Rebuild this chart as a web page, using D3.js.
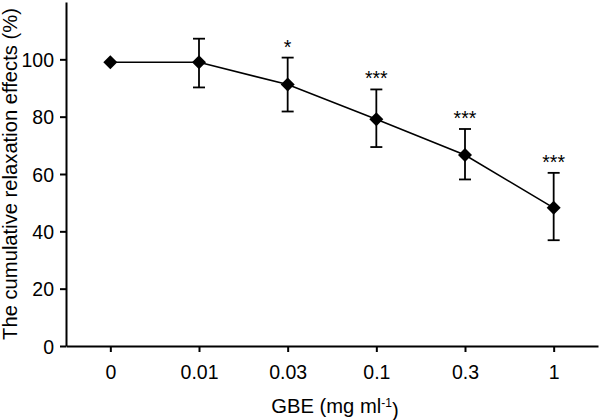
<!DOCTYPE html>
<html><head><meta charset="utf-8">
<script src="https://cdn.jsdelivr.net/npm/d3@7/dist/d3.min.js"></script>
<style>body{margin:0;background:#fff}svg{display:block}text{font-family:"Liberation Sans",Arial,sans-serif}</style>
</head><body><svg id="c" width="600" height="420"></svg>
<script>
const categories = ["0","0.01","0.03","0.1","0.3","1"];
const means = [99, 99, 91.2, 79.1, 66.6, 48.2];
const upper = [null, 107.2, 100.6, 89.5, 75.7, 60.4];
const lower = [null, 90.2, 81.8, 69.4, 58.1, 36.9];
const signif = ["", "", "*", "***", "***", "***"];
const yTicks = [0, 20, 40, 60, 80, 100];

(function () {
const FS = 19.5, TS = 20.2;
const FF = '"Liberation Sans",Arial,sans-serif';
const svg = d3.select("#c");
const mL = 66, mR = 598, mT = 2, mB = 346;
const x = d3.scalePoint().domain(categories).range([mL, mR]).padding(0.5);
const y = d3.scaleLinear().domain([0, 120]).range([mB, mT]);

// axes
const yAxis = svg.append("g").attr("transform", `translate(${mL},0)`)
  .call(d3.axisLeft(y).tickValues(yTicks).tickSize(6).tickPadding(6).tickSizeOuter(0));
const xAxis = svg.append("g").attr("transform", `translate(0,${mB})`)
  .call(d3.axisBottom(x).tickSize(6).tickPadding(13).tickSizeOuter(0));
[yAxis, xAxis].forEach(g => {
  g.attr("font-size", FS).attr("font-family", FF);
  g.select(".domain").attr("stroke", "#000").attr("stroke-width", 2);
  g.selectAll(".tick line").attr("stroke", "#000").attr("stroke-width", 2);
  g.selectAll(".tick text").attr("fill", "#000").attr("font-size", FS).style("font-size", FS + "px");
});
yAxis.selectAll(".tick text").attr("dy", "0.36em");

// line
const data = categories.map((c, i) => ({c, m: means[i], u: upper[i], l: lower[i], s: signif[i]}));
svg.append("path").datum(data)
  .attr("d", d3.line().x(d => x(d.c)).y(d => y(d.m)))
  .attr("fill", "none").attr("stroke", "#000").attr("stroke-width", 1.6);

// error bars
const eb = svg.append("g").attr("stroke", "#000").attr("stroke-width", 1.8);
data.filter(d => d.u != null).forEach(d => {
  const cx = x(d.c);
  eb.append("line").attr("x1", cx).attr("x2", cx).attr("y1", y(d.u)).attr("y2", y(d.l));
  eb.append("line").attr("x1", cx - 6).attr("x2", cx + 6).attr("y1", y(d.u)).attr("y2", y(d.u));
  eb.append("line").attr("x1", cx - 6).attr("x2", cx + 6).attr("y1", y(d.l)).attr("y2", y(d.l));
});

// markers
svg.append("g").selectAll("path").data(data).join("path")
  .attr("transform", d => `translate(${x(d.c)},${y(d.m)})`)
  .attr("d", "M0,-7L7,0L0,7L-7,0Z").attr("fill", "#000");

// significance
svg.append("g").selectAll("text").data(data.filter(d => d.s)).join("text")
  .attr("x", d => x(d.c)).attr("y", d => y(d.u) - 4)
  .attr("text-anchor", "middle").attr("font-size", FS).attr("fill", "#000")
  .text(d => d.s);

// axis titles
const xt = svg.append("text").attr("x", 335).attr("y", 413)
  .attr("text-anchor", "middle").attr("font-size", TS).attr("fill", "#000");
xt.append("tspan").text("GBE (mg ml");
xt.append("tspan").attr("dy", "-0.5em").attr("font-size", 12).text("-1");
xt.append("tspan").attr("dy", "0.5em").text(")");

svg.append("text").attr("transform", `translate(17,174) rotate(-90)`)
  .attr("text-anchor", "middle").attr("font-size", TS).attr("fill", "#000")
  .text("The cumulative relaxation effects (%)");
})();
</script></body></html>
